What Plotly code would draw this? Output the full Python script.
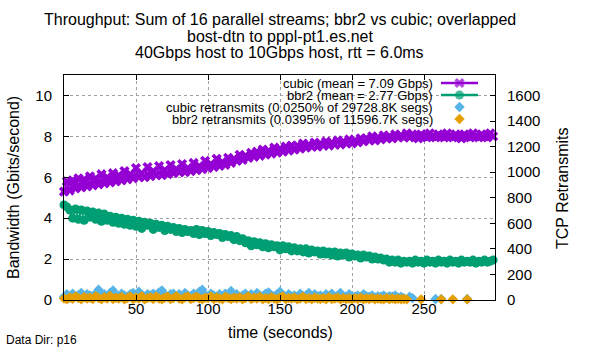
import plotly.graph_objects as go

# ---------------- data ----------------
time_s = list(range(0, 300, 2))  # sampling grid, seconds

cubic_gbps = [
    5.30, 5.80, 5.35, 5.85, 5.45, 5.95, 5.50, 5.90, 5.55, 6.05,
    5.60, 5.95, 5.65, 6.15, 5.70, 6.00, 5.75, 6.20, 5.80, 6.10,
    5.85, 6.30, 5.90, 6.15, 5.95, 6.45, 6.00, 6.20, 6.00, 6.50,
    6.05, 6.30, 6.10, 6.55, 6.10, 6.35, 6.15, 6.60, 6.20, 6.40,
    6.25, 6.65, 6.25, 6.45, 6.30, 6.70, 6.35, 6.55, 6.40, 6.80,
    6.45, 6.65, 6.50, 6.90, 6.55, 6.75, 6.60, 6.95, 6.70, 6.90,
    6.80, 7.10, 6.85, 7.05, 6.95, 7.20, 7.00, 7.25, 7.05, 7.35,
    7.10, 7.30, 7.15, 7.45, 7.20, 7.40, 7.25, 7.50, 7.30, 7.55,
    7.35, 7.55, 7.40, 7.65, 7.45, 7.60, 7.50, 7.70, 7.50, 7.65,
    7.55, 7.75, 7.55, 7.70, 7.60, 7.80, 7.60, 7.75, 7.65, 7.85,
    7.65, 7.80, 7.70, 7.90, 7.75, 7.90, 7.80, 8.00, 7.80, 7.95,
    7.85, 8.05, 7.90, 8.00, 7.90, 8.10, 7.95, 8.05, 7.95, 8.15,
    7.95, 8.10, 8.00, 7.90, 8.10, 8.00, 7.95, 8.15, 8.00, 7.95,
    8.10, 8.00, 7.95, 8.15, 8.00, 7.95, 8.10, 8.00, 7.90, 8.10,
    8.00, 7.95, 8.15, 8.00, 7.95, 8.10, 8.00, 7.95, 8.15, 8.00,
]

bbr2_gbps = [
    4.65, 4.55, 4.40, 4.00, 4.45, 3.95, 4.40, 3.90, 4.35, 4.05,
    4.30, 3.95, 4.25, 3.85, 4.20, 3.90, 4.10, 3.80, 4.05, 3.75,
    4.00, 3.70, 3.95, 3.65, 3.90, 3.60, 3.85, 3.50, 3.80, 3.65,
    3.75, 3.45, 3.70, 3.55, 3.65, 3.40, 3.60, 3.45, 3.55, 3.35,
    3.50, 3.30, 3.45, 3.35, 3.40, 3.25, 3.45, 3.20, 3.40, 3.25,
    3.35, 3.15, 3.30, 3.20, 3.25, 3.05, 3.20, 3.10, 3.15, 2.95,
    3.10, 2.90, 3.00, 2.80, 2.90, 2.65, 2.85, 2.70, 2.80, 2.60,
    2.75, 2.55, 2.70, 2.60, 2.65, 2.45, 2.65, 2.50, 2.60, 2.40,
    2.55, 2.40, 2.50, 2.35, 2.50, 2.30, 2.45, 2.35, 2.40, 2.25,
    2.40, 2.25, 2.35, 2.20, 2.35, 2.15, 2.30, 2.20, 2.30, 2.10,
    2.25, 2.15, 2.20, 2.05, 2.20, 2.10, 2.15, 2.00, 2.10, 2.00,
    2.05, 1.95, 2.00, 1.85, 1.95, 1.85, 1.95, 1.80, 1.90, 1.85,
    1.90, 1.80, 1.95, 1.85, 1.90, 1.80, 1.95, 1.85, 1.90, 1.80,
    1.95, 1.85, 1.90, 1.80, 1.95, 1.85, 1.90, 1.80, 1.95, 1.85,
    1.90, 1.85, 1.95, 1.80, 1.90, 1.85, 1.95, 1.85, 1.90, 1.95,
]

N = None
cubic_retrans = [
    25, 45, 20, 50, 30, 40, 55, 25, 45, 35,
    30, 50, 80, 35, 45, 25, 55, 75, 40, 30,
    50, 35, 25, 45, 55, 30, 65, 40, 25, 45,
    35, 50, 30, 60, 75, 40, 25, 45, 50, 30,
    45, 25, 55, 35, 30, 50, 40, 65, 80, 40,
    30, 50, 35, 25, 45, 30, 50, 35, 70, 30,
    45, 25, 35, 50, 30, 45, 25, 55, 35, 30,
    50, 60, 35, 30, 45, 65, 35, 25, 45, 30,
    35, 25, 50, 30, 35, 55, 25, 45, 30, 35,
    25, 45, 30, 50, 25, 35, 55, 30, 25, 45,
    30, 25, 35, 20, 45, 30, 25, 35, 20, 30,
    25, 35, 20, 30, 25, 35, 20, 25,
    15, N, 25, 15, N, N, N, N, N, N, N, 8, N, 8,
    N, N, N, N, N, N, N, N, 8, N, N, N, N, N, N, N, N, N,
]

bbr2_retrans = [
    12, 5, 20, 10, 28, 15, 6, 24, 12, 18,
    8, 30, 15, 6, 22, 12, 32, 8, 18, 12,
    24, 6, 15, 28, 8, 20, 12, 30, 6, 15,
    22, 8, 28, 12, 6, 18, 25, 8, 15, 30,
    12, 6, 20, 28, 8, 15, 25, 12, 6, 18,
    15, 28, 8, 20, 12, 6, 25, 15, 8, 18,
    12, 22, 6, 15, 28, 8, 18, 12, 25, 6,
    15, 8, 22, 12, 6, 18, 28, 8, 15, 12,
    20, 6, 12, 25, 8, 15, 6, 18, 12, 8,
    15, 6, 22, 8, 12, 18, 6, 15, 8, 12,
    6, 15, 8, 18, 6, 12, 8, 15, 5, 12,
    8, 5, 15, 6, 12, 5, 10, 6,
    8, 5, N, N, N, N, 5, N, N, N, N, N, N, 5,
    N, N, N, 5, N, N, N, N, 5, N, N, N, N, N, N, N, N, N,
]

x_ticks = [50, 100, 150, 200, 250]
y_ticks = [0, 2, 4, 6, 8, 10]
y2_ticks = [0, 200, 400, 600, 800, 1000, 1200, 1400, 1600]

title_lines = [
    "Throughput: Sum of 16 parallel streams; bbr2 vs cubic; overlapped",
    "bost-dtn to pppl-pt1.es.net",
    "40Gbps host to 10Gbps host, rtt = 6.0ms",
]
legend_labels = [
    "cubic (mean = 7.09 Gbps)",
    "bbr2 (mean = 2.77 Gbps)",
    "cubic retransmits (0.0250% of 29728.8K segs)",
    "bbr2 retransmits (0.0395% of 11596.7K segs)",
]

# ---------------- styles ----------------
C_CUBIC = "#9400d3"
C_BBR2 = "#009e73"
C_CRET = "#56b4e9"
C_BRET = "#e69f00"
FONT = "Liberation Sans, Arial, sans-serif"

W, H = 600, 350
L, R, T, B = 64, 105, 75, 50
PW, PH = W - L - R, H - T - B


def px_x(x):
    return (x - L) / PW


def px_y(y):
    return (H - B - y) / PH


fig = go.Figure()

fig.add_trace(go.Scatter(
    x=time_s, y=cubic_gbps, mode="lines+markers", cliponaxis=False,
    line=dict(color=C_CUBIC, width=2),
    marker=dict(symbol="x", size=9, color=C_CUBIC, line=dict(width=0)),
))
fig.add_trace(go.Scatter(
    x=time_s, y=bbr2_gbps, mode="lines+markers", cliponaxis=False,
    line=dict(color=C_BBR2, width=2),
    marker=dict(symbol="circle", size=9, color=C_BBR2, line=dict(width=0)),
))
fig.add_trace(go.Scatter(
    x=time_s, y=cubic_retrans, mode="markers", yaxis="y2", cliponaxis=False,
    marker=dict(symbol="diamond", size=8, color=C_CRET, line=dict(width=0)),
))
fig.add_trace(go.Scatter(
    x=time_s, y=bbr2_retrans, mode="markers", yaxis="y2", cliponaxis=False,
    marker=dict(symbol="diamond", size=8, color=C_BRET, line=dict(width=0)),
))

# legend samples on a pixel-space overlay axis
leg_rows = [83, 95, 107, 119]
fig.add_trace(go.Scatter(
    x=[441, 459.5, 478], y=[leg_rows[0]] * 3, mode="lines+markers",
    xaxis="x3", yaxis="y3", cliponaxis=False,
    line=dict(color=C_CUBIC, width=2.5),
    marker=dict(symbol="x", size=[0, 9, 0], color=C_CUBIC, line=dict(width=0)),
))
fig.add_trace(go.Scatter(
    x=[441, 459.5, 478], y=[leg_rows[1]] * 3, mode="lines+markers",
    xaxis="x3", yaxis="y3", cliponaxis=False,
    line=dict(color=C_BBR2, width=2.5),
    marker=dict(symbol="circle", size=[0, 9, 0], color=C_BBR2, line=dict(width=0)),
))
fig.add_trace(go.Scatter(
    x=[459.5], y=[leg_rows[2]], mode="markers", xaxis="x3", yaxis="y3",
    marker=dict(symbol="diamond", size=8, color=C_CRET, line=dict(width=0)),
))
fig.add_trace(go.Scatter(
    x=[459.5], y=[leg_rows[3]], mode="markers", xaxis="x3", yaxis="y3",
    marker=dict(symbol="diamond", size=8, color=C_BRET, line=dict(width=0)),
))

axis_common = dict(
    showline=True, linecolor="black", linewidth=1,
    ticks="inside", ticklen=5, tickcolor="black", tickwidth=1,
    tickfont=dict(family=FONT, size=15, color="black"),
    zeroline=False,
)

annotations = []
for i, (line, yy) in enumerate(zip(title_lines, [20, 36, 52])):
    annotations.append(dict(
        text=line, xref="paper", yref="paper", x=px_x(279.5), y=px_y(yy),
        xanchor="center", yanchor="middle", showarrow=False,
        font=dict(family=FONT, size=16, color="black"),
    ))
for lbl, yy in zip(legend_labels, leg_rows):
    annotations.append(dict(
        text=lbl, xref="paper", yref="paper", x=px_x(434), y=px_y(yy),
        xanchor="right", yanchor="middle", showarrow=False, borderpad=0,
        font=dict(family=FONT, size=13, color="black"),
    ))
annotations += [
    dict(text="Bandwidth (Gbits/second)", xref="paper", yref="paper",
         x=px_x(13), y=px_y(188), textangle=-90, showarrow=False,
         xanchor="center", yanchor="middle",
         font=dict(family=FONT, size=16, color="black")),
    dict(text="TCP Retransmits", xref="paper", yref="paper",
         x=px_x(562), y=px_y(188), textangle=-90, showarrow=False,
         xanchor="center", yanchor="middle",
         font=dict(family=FONT, size=16, color="black")),
    dict(text="time (seconds)", xref="paper", yref="paper",
         x=px_x(280), y=px_y(332), showarrow=False,
         xanchor="center", yanchor="middle",
         font=dict(family=FONT, size=16, color="black")),
    dict(text="Data Dir: p16", xref="paper", yref="paper",
         x=px_x(4), y=px_y(340), showarrow=False,
         xanchor="left", yanchor="middle",
         font=dict(family=FONT, size=12, color="black")),
]

fig.update_layout(
    width=W, height=H,
    margin=dict(l=L, r=R, t=T, b=B, pad=0),
    paper_bgcolor="white", plot_bgcolor="white",
    showlegend=False,
    xaxis=dict(range=[0, 299.3], tickvals=x_ticks, mirror="ticks",
               showgrid=True, gridcolor="#a0a0a0", gridwidth=1, griddash="3px,3px",
               ticklabelstandoff=-5, **axis_common),
    yaxis=dict(range=[0, 11], tickvals=y_ticks, mirror=True,
               showgrid=True, gridcolor="#a0a0a0", gridwidth=1, griddash="3px,3px",
               ticklabelstandoff=8, **axis_common),
    yaxis2=dict(range=[0, 1760], tickvals=y2_ticks, overlaying="y", side="right",
                showgrid=False, ticklabelstandoff=8, **axis_common),
    xaxis3=dict(range=[L, W - R], overlaying="x", anchor="y3", visible=False),
    yaxis3=dict(range=[H - B, T], overlaying="y", anchor="x3", visible=False),
    annotations=annotations,
    shapes=[dict(type="rect", xref="paper", yref="paper",
                 x0=px_x(160), x1=px_x(488), y0=px_y(126), y1=px_y(77),
                 fillcolor="white", line=dict(width=0), layer="between")],
)

fig.write_html("out.html")
